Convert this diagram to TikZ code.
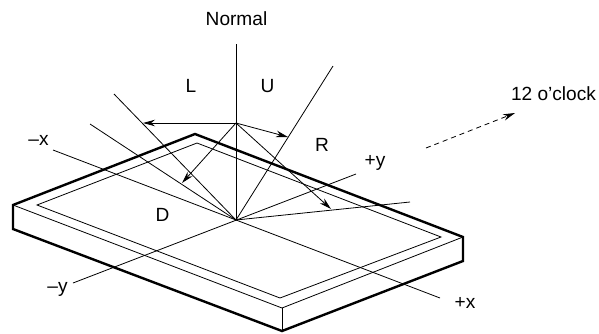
\documentclass[tikz,border=0pt]{standalone}
\usepackage{fontspec}
\setmainfont{Liberation Sans}
\usetikzlibrary{arrows.meta}
\tikzset{
  thin line/.style={draw=black,line width=0.8bp},
  thick edge/.style={draw=black,line width=2.4bp,line join=miter},
  pointer/.style={thin line,-{Stealth[length=12bp,width=6.5bp]}},
  lbl/.style={font=\fontsize{19.1bp}{21bp}\selectfont,inner sep=0pt,text=black}
}
\begin{document}
\begin{tikzpicture}[x=1bp,y=-1bp]
\useasboundingbox (0,0) rectangle (599,333);
% plate
\coordinate (oL) at (13,205); \coordinate (oT) at (195,134);
\coordinate (oR) at (463,237); \coordinate (oB) at (282,308);
\coordinate (lL) at (13,229); \coordinate (lB) at (282,331); \coordinate (lR) at (463,261);
\coordinate (iL) at (37,205); \coordinate (iT) at (197,143);
\coordinate (iR) at (441,237); \coordinate (iB) at (280,298);
\draw[thin line] (iL) -- (iT) -- (iR) -- (iB) -- cycle;
\draw[thin line] (oL) -- (oB) -- (oR);
\draw[thin line] (oB) -- (lB);
\draw[thick edge] (lR) -- (oR) -- (oT) -- (oL) -- (lL) -- (lB) -- (lR) -- cycle;
% axes
\coordinate (c) at (236,220); \coordinate (a) at (236,123);
\coordinate (nT) at (236,44);
\coordinate (xm) at (53,150); \coordinate (xp) at (440,298);
\coordinate (ym) at (73,283); \coordinate (yp) at (356,174);
\coordinate (lE) at (114,94); \coordinate (dE) at (90,124);
\coordinate (uE) at (333,66); \coordinate (rE) at (410,202);
\draw[thin line] (c) -- (nT);
\draw[thin line] (xm) -- (xp);
\draw[thin line] (ym) -- (yp);
\draw[thin line] (c) -- (lE);
\draw[thin line] (c) -- (dE);
\draw[thin line] (c) -- (uE);
\draw[thin line] (c) -- (rE);
% apex
\coordinate (aL) at (143,123); \coordinate (aD) at (182,183);
\coordinate (aU) at (288,137); \coordinate (aR) at (331,209);
\draw[pointer] (a) -- (aL);
\draw[pointer] (a) -- (aD);
\draw[pointer] (a) -- (aU);
\draw[pointer] (a) -- (aR);
% clock arrow
\coordinate (k1) at (426,148); \coordinate (k2) at (515,113);
\draw[pointer,dash pattern=on 5bp off 4bp] (k1) -- (k2);
% labels
\node[lbl] (nNormal) at (236.5,19) {Normal};
\node[lbl] (nL) at (191,86) {L};
\node[lbl] (nU) at (267.5,86) {U};
\node[lbl] (nR) at (322,145) {R};
\node[lbl] (nYp) at (375,163) {+y};
\node[lbl] (nXm) at (38.5,140) {–x};
\node[lbl] (nD) at (162.5,215) {D};
\node[lbl] (nYm) at (57.5,289) {–y};
\node[lbl] (nXp) at (465,303) {+x};
\node[lbl] (nClock) at (553.5,94) {12 o’clock};
\end{tikzpicture}
\end{document}
